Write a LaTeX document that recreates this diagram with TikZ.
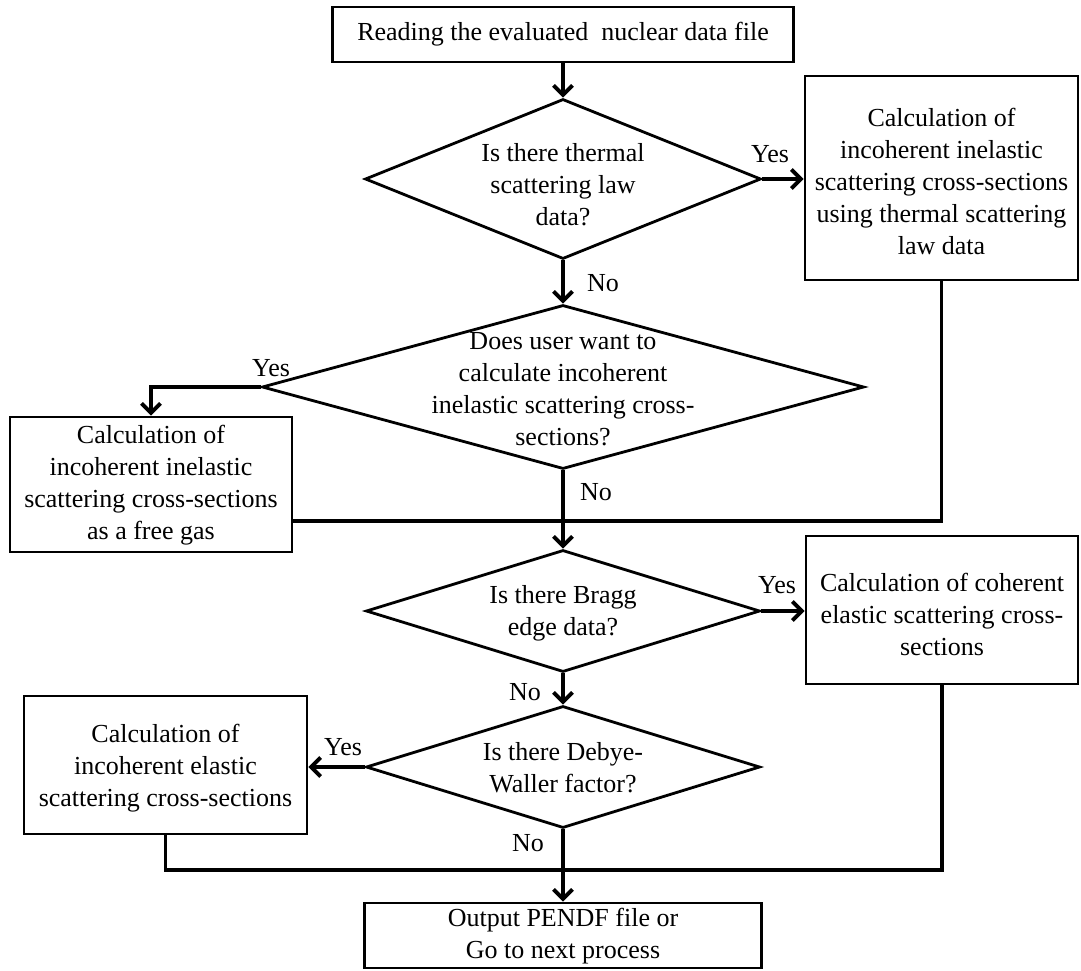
\documentclass[tikz,border=0pt]{standalone}
\usepackage{fontspec}
\setmainfont{Liberation Serif}
\usetikzlibrary{arrows.meta,shapes.geometric}
\begin{document}
\begin{tikzpicture}[x=1pt,y=-1pt,
  every node/.style={font=\fontsize{26}{32}\selectfont},
  procbox/.style={draw, line width=2.8pt, rectangle, inner sep=0pt},
  decision/.style={draw, line width=2.8pt, diamond, inner sep=0pt},
  txt/.style={align=center, inner sep=0pt},
  lbl/.style={inner sep=0pt},
  flow/.style={line width=3.8pt},
  arr/.style={flow, -{Straight Barb[length=9.5pt,width=19pt]}}]
\useasboundingbox (0,0) rectangle (1081,971);

% process boxes
\node[procbox, minimum width=461pt, minimum height=55pt] (read) at (563,34.5)
  {Reading the evaluated\ \ nuclear data file};
\node[procbox, minimum width=273pt, minimum height=204pt] (r1) at (941.5,178) {};
\node[txt] at (941.5,181) {Calculation of\\incoherent inelastic\\scattering cross-sections\\using thermal scattering\\law data};
\node[procbox, minimum width=282pt, minimum height=135pt] (l1) at (151,484.5) {};
\node[txt] at (151,485) {Calculation of\\incoherent inelastic\\scattering cross-sections\\as a free gas};
\node[procbox, minimum width=272pt, minimum height=148pt] (r2) at (942,610) {};
\node[txt] at (942,614) {Calculation of coherent\\elastic scattering cross-\\sections};
\node[procbox, minimum width=283pt, minimum height=138pt] (l2) at (165.5,765) {};
\node[txt] at (165.5,768) {Calculation of\\incoherent elastic\\scattering cross-sections};
\node[procbox, minimum width=397pt, minimum height=65pt] (out) at (563,935.5) {};
\node[txt] at (563,936) {Output PENDF file or\\Go to next process};

% decisions
\node[decision, minimum width=396pt, minimum height=160pt] (d1) at (563,179) {};
\node[txt] at (563,185) {Is there thermal\\scattering law\\data?};
\node[decision, minimum width=602pt, minimum height=164pt] (d2) at (563,387) {};
\node[txt] at (563,389) {Does user want to\\calculate incoherent\\inelastic scattering cross-\\sections?};
\node[decision, minimum width=394pt, minimum height=122pt] (d3) at (563,611) {};
\node[txt] at (563,613) {Is there Bragg\\edge data?};
\node[decision, minimum width=394pt, minimum height=122pt] (d4) at (563,767) {};
\node[txt] at (563,768) {Is there Debye-\\Waller factor?};

% branch labels
\node[lbl] (y1) at (770,154) {Yes};
\node[lbl] (n1) at (603,283) {No};
\node[lbl] (y2) at (271,368) {Yes};
\node[lbl] (n2) at (596,492) {No};
\node[lbl] (y3) at (777,585) {Yes};
\node[lbl] (n3) at (525,692) {No};
\node[lbl] (y4) at (343,747) {Yes};
\node[lbl] (n4) at (528,843) {No};

% junction points
\coordinate (m1) at (563,521);
\coordinate (m2) at (563,870);

% connectors
\draw[arr] (read.south) -- (d1.north);
\draw[arr] (d1.east) -- (r1.west |- d1.east);
\draw[arr] (d1.south) -- (d2.north);
\draw[arr] (d2.west) -| (l1.north);
\draw[arr] (d2.south) -- (d3.north);
\draw[flow] (r1.south) |- (m1);
\draw[flow] (l1.east |- m1) -- (m1);
\draw[arr] (d3.east) -- (r2.west |- d3.east);
\draw[arr] (d3.south) -- (d4.north);
\draw[arr] (d4.west) -- (l2.east |- d4.west);
\draw[arr] (d4.south) -- (out.north);
\draw[flow] (l2.south) |- (m2);
\draw[flow] (r2.south) |- (m2);
\end{tikzpicture}
\end{document}
